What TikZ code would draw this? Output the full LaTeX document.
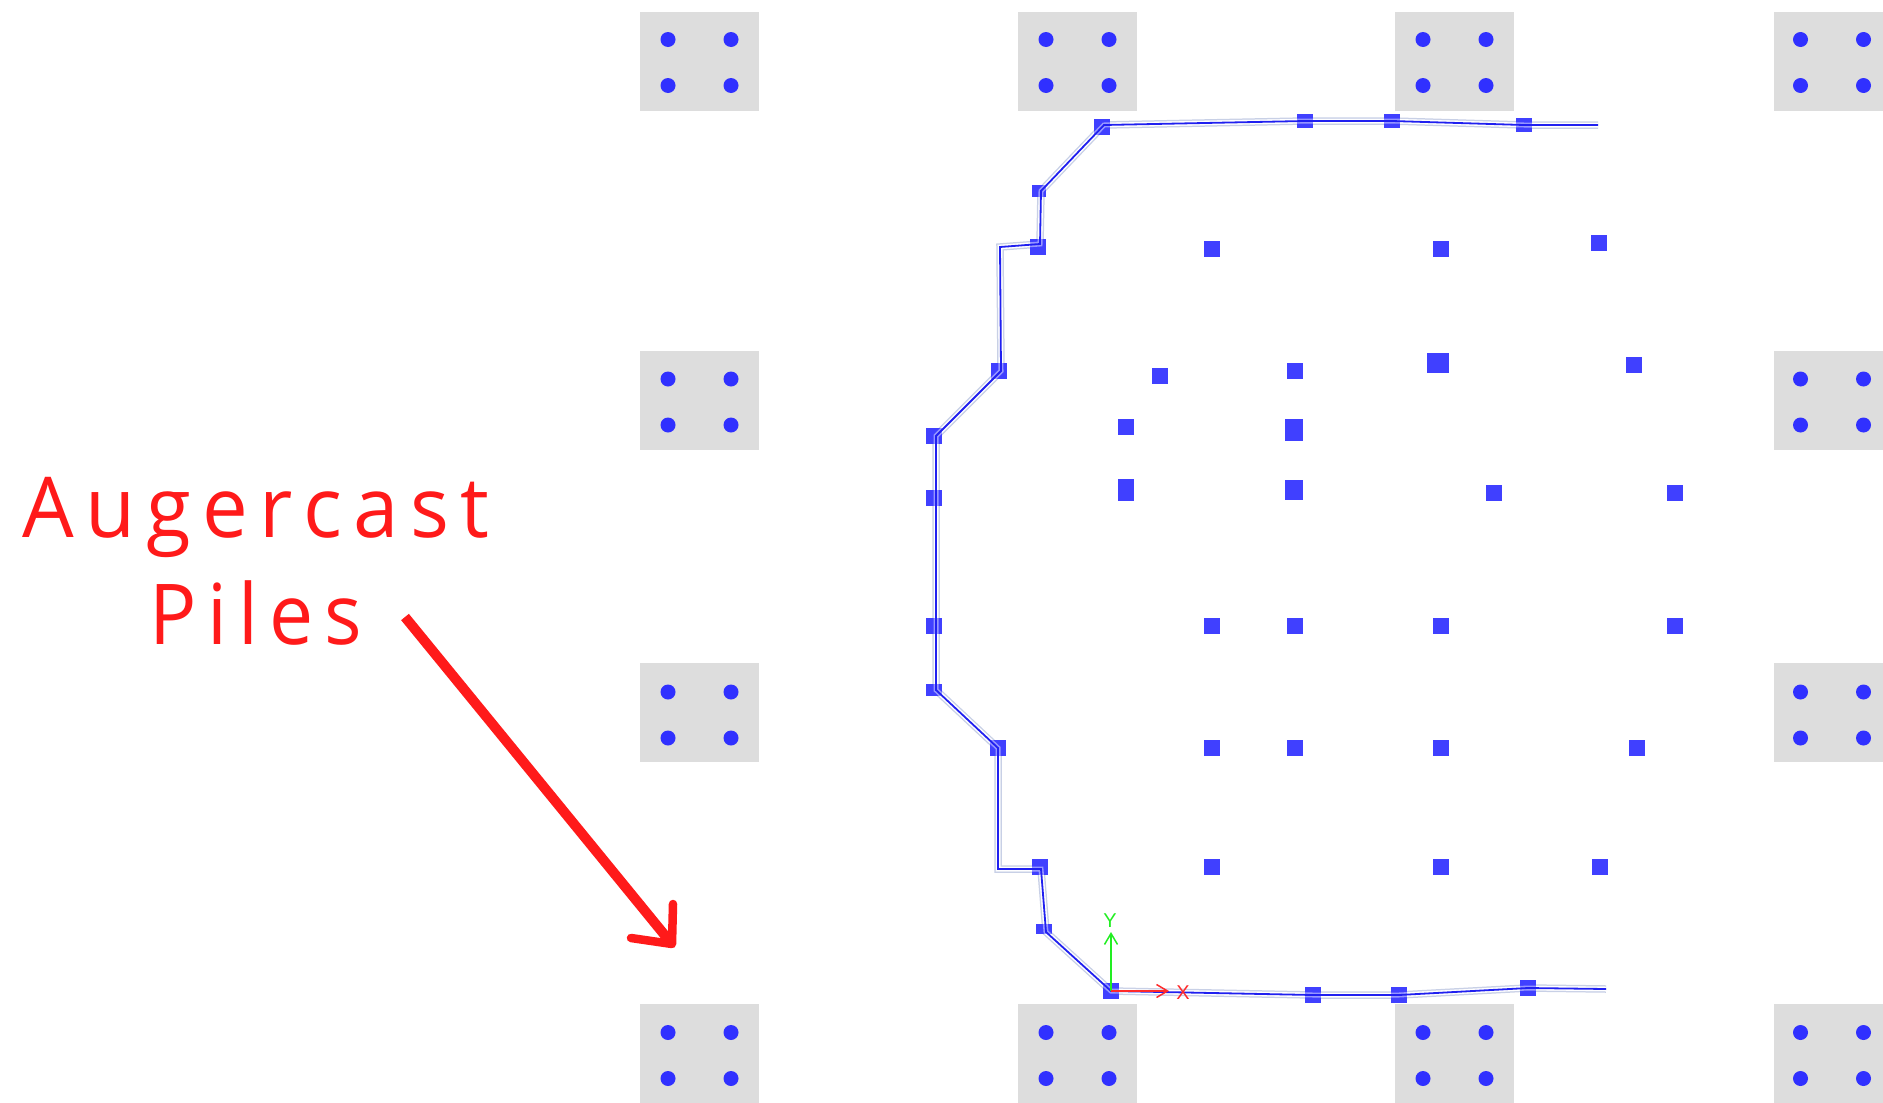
\documentclass[tikz,border=0pt]{standalone}
\usepackage{fontspec}
\usepackage{graphicx}
\usetikzlibrary{arrows.meta,backgrounds}
\newfontfamily\notefont[LetterSpace=14]{Open Sans}
\newfontfamily\axisfont{Liberation Sans}
\definecolor{pileblue}{HTML}{4040FF}
\definecolor{dotblue}{HTML}{3030FF}
\definecolor{capgrey}{HTML}{DDDDDD}
\definecolor{halogrey}{HTML}{C8D0E6}
\definecolor{notered}{HTML}{FF1A1A}
\definecolor{axisgreen}{HTML}{22EE22}
\definecolor{axisred}{HTML}{FF2A2A}
\definecolor{wallblue}{HTML}{2020F0}
\tikzset{
	pile/.style={fill=pileblue,inner sep=0pt,minimum width=16.5pt,minimum height=16.5pt},
	capbox/.style={fill=capgrey,inner sep=0pt,anchor=north west,minimum width=119pt,minimum height=99pt},
	capdot/.style={circle,fill=dotblue,inner sep=0pt,minimum size=15pt},
	wallunder/.style={draw=halogrey,line width=1.5pt,double=white,double distance=4.5pt},
	wall/.style={draw=wallblue,line width=1.8pt,
		preaction={draw=white,opacity=.45,line width=5pt}},
	axisarrow/.style={line width=1.5pt,-{Straight Barb[length=11pt,width=13pt]}},
	axisname/.style={font=\axisfont\fontsize{20}{20}\selectfont,inner sep=0pt},
	note/.style={font=\notefont\fontsize{84}{84}\selectfont,text=notered,inner sep=0pt,anchor=base west}
}
\newcommand{\wallpath}{(topend) -- (w4.center) -- (w3.center) -- (w2.center)
	-- ([shift={(2,-2)}]w1.center) -- ([xshift=2pt]w5.center)
	-- ([shift={(2,-3)}]w6.center) -- (bendA) -- ([xshift=2pt]w7.center)
	-- ([xshift=2pt]w8.center) -- ([xshift=2pt]w9.center) -- ([xshift=2pt]w10.center)
	-- ([xshift=2pt]w11.center) -- (w12.center) -- (bendB) -- ([shift={(1,2)}]w13.center)
	-- ([shift={(2,3)}]w14.center) -- (w15.center) -- (w16.center) -- (w17.center)
	-- (w18.center) -- (botend)}
\begin{document}
\begin{tikzpicture}[x=1pt,y=-1pt]
	\useasboundingbox (0,0) rectangle (1883,1103);
	\clip (0,0) rectangle (1883,1103);

	% pile caps, outer columns have all four rows
	\foreach \bx/\dx/\rows in {640/28/{12/27.5,351/28,663/29,1004/28.5},1018/28/{12/27.5,1004/28.5},
			1395/28/{12/27.5,1004/28.5},1774/26.5/{12/27.5,351/28,663/29,1004/28.5}}
		\foreach \by/\dy in \rows {
			\node[capbox] (cap-\bx-\by) at (\bx,\by) {};
			\node[capdot] (dot-\bx-\by-a) at (\bx+\dx,\by+\dy) {};
			\node[capdot] (dot-\bx-\by-b) at (\bx+\dx+63,\by+\dy) {};
			\node[capdot] (dot-\bx-\by-c) at (\bx+\dx,\by+\dy+46) {};
			\node[capdot] (dot-\bx-\by-d) at (\bx+\dx+63,\by+\dy+46) {};
		}

	% inner piles
	\foreach \x/\y [count=\n] in {1212/249,1441/249,1599/243,1160/376,1295/371,1634/365,
			1126/427,1494/493,1675/493,1212/626,1295/626,1441/626,1675/626,
			1212/748,1295/748,1441/748,1637/748,1212/867,1441/867,1600/867}
		\node[pile] (in\n) at (\x,\y) {};
	\node[pile,minimum width=22pt,minimum height=20pt] (big1) at (1438,363) {};
	\node[pile,minimum width=18pt,minimum height=22pt] (big2) at (1294,430) {};
	\node[pile,minimum height=22pt] (big3) at (1126,490) {};
	\node[pile,minimum width=18pt,minimum height=20pt] (big4) at (1294,490) {};

	% piles along the wall
	\node[pile] (w1) at (1102,127) {};
	\node[pile,minimum height=14pt] (w2) at (1305,121) {};
	\node[pile,minimum height=14pt] (w3) at (1392,121) {};
	\node[pile,minimum height=14pt] (w4) at (1524,125) {};
	\node[pile,minimum width=14pt,minimum height=12pt] (w5) at (1039,191) {};
	\node[pile] (w6) at (1038,247) {};
	\node[pile] (w7) at (999,371) {};
	\node[pile] (w8) at (934,436) {};
	\node[pile] (w9) at (934,498) {};
	\node[pile] (w10) at (934,626) {};
	\node[pile,minimum height=12pt] (w11) at (934,690) {};
	\node[pile] (w12) at (998,748) {};
	\node[pile] (w13) at (1040,867) {};
	\node[pile,minimum height=10pt] (w14) at (1044,929) {};
	\node[pile] (w15) at (1111,991) {};
	\node[pile] (w16) at (1313,995) {};
	\node[pile] (w17) at (1399,995) {};
	\node[pile] (w18) at (1528,988) {};

	\coordinate (topend) at (1598,125);
	\coordinate (botend) at (1606,989);
	\coordinate (bendA) at (1000,247);
	\coordinate (bendB) at (998,869);

	% wall line, pale edges go under the piles
	\begin{pgfonlayer}{background}
		\draw[wallunder] \wallpath;
	\end{pgfonlayer}
	\draw[wall] \wallpath;

	% axes
	\coordinate (ytip) at (1111,932);
	\coordinate (xtip) at (1169,991);
	\draw[axisarrow,axisgreen] (w15.center) -- (ytip);
	\draw[axisarrow,axisred] (w15.center) -- (xtip);
	\node[axisname,text=axisgreen] (yname) at (1110,921) {Y};
	\node[axisname,text=axisred] (xname) at (1183,993) {X};

	% note and arrow
	\node[note] (noteA) at (22,537) {\resizebox{467pt}{\height}{Augercast}};
	\node[note] (noteB) at (149,644) {\resizebox{213pt}{\height}{Piles}};
	\coordinate (tailpt) at (405,617);
	\coordinate (headpt) at (672,944);
	\coordinate (barbA) at (673,904);
	\coordinate (barbB) at (631,938);
	\draw[notered,line width=10pt] (tailpt) -- (headpt);
	\draw[notered,line width=8.5pt,line cap=round,line join=round] (barbA) -- (headpt) -- (barbB);
\end{tikzpicture}
\end{document}
